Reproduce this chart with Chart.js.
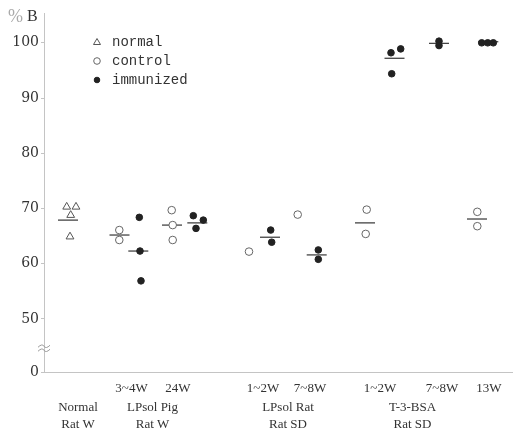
<!DOCTYPE html>
<html>
<head>
<meta charset="utf-8">
<script src="https://cdn.jsdelivr.net/npm/chart.js@4.4.1/dist/chart.umd.min.js"></script>
<style>
  html, body { margin: 0; padding: 0; background: #fff; }
  #wrap { width: 513px; height: 433px; }
</style>
</head>
<body>
<div id="wrap"><canvas id="chart"></canvas></div>
<script>
"use strict";
// x = column position on the group axis, y = % B
const normalX = [2.27, 3.2, 2.67, 2.6];
const normalY = [70.3, 70.3, 68.8, 64.9];
const controlX = [7.53, 7.53, 12.77, 12.87, 12.87, 20.5, 25.37, 32.27, 32.17, 43.33, 43.33];
const controlY = [66.1, 64.3, 69.7, 67.0, 64.3, 62.2, 68.9, 69.8, 65.4, 69.4, 66.8];
const immunizedX = [9.53, 9.6, 9.7, 14.93, 15.93, 15.2, 22.67, 22.77, 27.43, 27.43, 34.7, 35.67, 34.77, 39.5, 39.5, 43.77, 44.37, 44.93];
const immunizedY = [68.4, 62.3, 56.9, 68.7, 67.9, 66.4, 66.1, 63.9, 62.5, 60.8, 98.2, 98.9, 94.4, 100.3, 99.5, 100.0, 100.0, 100.0];
const meanX = [2.4, 7.55, 9.43, 12.8, 15.33, 22.6, 27.27, 32.1, 35.05, 39.5, 43.3, 44.43];
const meanY = [67.9, 65.2, 62.3, 67.0, 67.4, 64.8, 61.6, 67.4, 97.2, 99.9, 68.1, 100.2];

const subLabels = ["3~4W", "24W", "1~2W", "7~8W", "1~2W", "7~8W", "13W"];
const subPos = [8.75, 13.4, 21.9, 26.6, 33.6, 39.8, 44.5];
const groupLabels = [["Normal", "Rat W"], ["LPsol Pig", "Rat W"], ["LPsol Rat", "Rat SD"], ["T-3-BSA", "Rat SD"]];
const groupPos = [3.4, 10.85, 24.4, 36.85];
const yTicks = [40.4, 50, 60, 70, 80, 90, 100];
const yTickLabels = ["0", "50", "60", "70", "80", "90", "100"];
const yBreak = 44.7;

const pts = (xs, ys) => xs.map((x, i) => ({ x: x, y: ys[i] }));
const AXIS = "#c4c4c4";
const INK = "#333";

const noSidePad = (s) => { s.paddingLeft = 0; s.paddingRight = 0; };

const extras = {
  id: "extras",
  afterDraw(chart) {
    const ctx = chart.ctx;
    const a = chart.chartArea;
    const ys = chart.scales.y;
    ctx.save();
    // % B
    ctx.textBaseline = "middle";
    ctx.font = "18px 'Liberation Serif'";
    ctx.fillStyle = "#aaa";
    ctx.fillText("%", a.left - 36, a.top + 4);
    ctx.font = "16px 'Liberation Serif'";
    ctx.fillStyle = INK;
    ctx.fillText("B", a.left - 17, a.top + 4);
    // axis break
    const by = ys.getPixelForValue(yBreak);
    ctx.strokeStyle = "#999";
    ctx.lineWidth = 1;
    [-2, 2].forEach((d) => {
      ctx.beginPath();
      ctx.moveTo(a.left - 6, by + d + 1);
      ctx.quadraticCurveTo(a.left - 2, by + d - 3, a.left, by + d);
      ctx.quadraticCurveTo(a.left + 2, by + d + 3, a.left + 6, by + d - 1);
      ctx.stroke();
    });
    // legend
    const items = chart.data.datasets.filter((d) => d.label);
    ctx.font = "14px 'Liberation Mono'";
    items.forEach((d, i) => {
      const x = a.left + 53;
      const y = a.top + 29 + i * 19;
      ctx.beginPath();
      ctx.strokeStyle = d.borderColor;
      ctx.fillStyle = d.backgroundColor;
      ctx.lineWidth = 1;
      if (d.pointStyle === "triangle") {
        ctx.moveTo(x, y - 3.5);
        ctx.lineTo(x + 3.5, y + 2.5);
        ctx.lineTo(x - 3.5, y + 2.5);
        ctx.closePath();
      } else {
        ctx.arc(x, y, d.pointRadius - 0.5, 0, Math.PI * 2);
      }
      ctx.fill();
      ctx.stroke();
      ctx.fillStyle = INK;
      ctx.fillText(d.label, a.left + 68, y);
    });
    ctx.restore();
  },
};

new Chart(document.querySelector("#chart"), {
  type: "scatter",
  data: {
    datasets: [
      {
        label: "normal",
        data: pts(normalX, normalY),
        pointStyle: "triangle",
        pointRadius: 4.5,
        borderColor: "#555",
        backgroundColor: "#fff",
        borderWidth: 1,
        xAxisID: "x",
      },
      {
        label: "control",
        data: pts(controlX, controlY),
        pointStyle: "circle",
        pointRadius: 3.8,
        borderColor: "#666",
        backgroundColor: "#fff",
        borderWidth: 1,
        xAxisID: "x",
      },
      {
        label: "immunized",
        data: pts(immunizedX, immunizedY),
        pointStyle: "circle",
        pointRadius: 3.3,
        borderColor: "#222",
        backgroundColor: "#222",
        borderWidth: 1,
        xAxisID: "x",
      },
      {
        data: pts(meanX, meanY),
        pointStyle: "line",
        pointRadius: 10,
        borderColor: "#444",
        borderWidth: 1.3,
        xAxisID: "x",
      },
    ],
  },
  options: {
    responsive: true,
    maintainAspectRatio: false,
    animation: false,
    layout: { autoPadding: false, padding: { top: 13, left: 0, right: 0, bottom: 0 } },
    plugins: { legend: { display: false }, tooltip: { enabled: false } },
    scales: {
      x: {
        type: "linear",
        position: "bottom",
        min: 0,
        max: 46.9,
        weight: 0,
        afterBuildTicks: (s) => { s.ticks = subPos.map((v) => ({ value: v })); },
        afterFit: (s) => { s.height = 25; noSidePad(s); },
        grid: { drawOnChartArea: false, drawTicks: false },
        border: { color: AXIS },
        ticks: {
          autoSkip: false,
          maxRotation: 0,
          padding: 9,
          color: INK,
          font: { family: "'Liberation Serif'", size: 13 },
          callback: (v, i) => subLabels[i],
        },
      },
      xg: {
        type: "linear",
        position: "bottom",
        min: 0,
        max: 46.9,
        weight: 1,
        afterBuildTicks: (s) => { s.ticks = groupPos.map((v) => ({ value: v })); },
        afterFit: (s) => { s.height = 36; noSidePad(s); },
        grid: { display: false, drawTicks: false },
        border: { display: false },
        ticks: {
          autoSkip: false,
          maxRotation: 0,
          padding: 2,
          color: INK,
          font: { family: "'Liberation Serif'", size: 13, lineHeight: 1.3 },
          callback: (v, i) => groupLabels[i],
        },
      },
      y: {
        min: 40.4,
        max: 105.4,
        afterBuildTicks: (s) => { s.ticks = yTicks.map((v) => ({ value: v })); },
        afterFit: (s) => { s.width = 44; },
        grid: { drawOnChartArea: false, tickLength: 3, color: AXIS },
        border: { color: AXIS },
        ticks: {
          padding: 2,
          color: INK,
          font: { family: "'DejaVu Serif'", size: 14 },
          callback: (v, i) => yTickLabels[i],
        },
      },
    },
  },
  plugins: [extras],
});
</script>
</body>
</html>
